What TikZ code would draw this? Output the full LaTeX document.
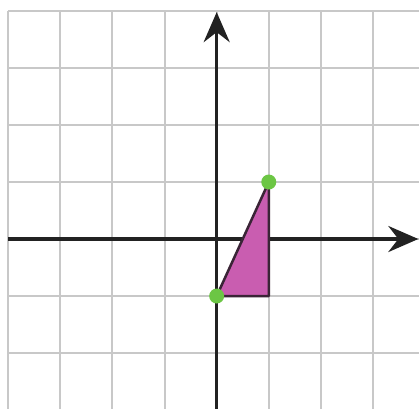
\documentclass[tikz,border=0pt]{standalone}
\usetikzlibrary{arrows.meta}
\definecolor{gridgray}{HTML}{C8C8C8}
\definecolor{axisdark}{HTML}{222222}
\definecolor{trifill}{HTML}{C95DB0}
\definecolor{triedge}{HTML}{3A2436}
\definecolor{dotgreen}{HTML}{6CC644}
\tikzset{
  gridline/.style={draw=gridgray,line width=2pt},
  axisline/.style={draw=axisdark,line width=3.5pt,-{Stealth[length=30pt,width=26pt,inset=10pt]}},
  tri/.style={fill=trifill,draw=triedge,line width=2.5pt,line join=round},
  dot/.style={circle,fill=dotgreen,inner sep=0pt,minimum size=15pt}
}
\begin{document}
\begin{tikzpicture}[x=52.1pt,y=57pt]
\useasboundingbox (-4.159,-2.982) rectangle (3.883,4.193);
\fill[white] (-4.159,-2.982) rectangle (3.883,4.193);
% grid
\foreach \i in {-4,...,3} \draw[gridline] (\i,-3.1) -- (\i,4);
\foreach \j in {-2,...,4} \draw[gridline] (-4,\j) -- (3.95,\j);
% axes
\coordinate (xl) at (-4,0);
\coordinate (xr) at (3.87,0);
\coordinate (yb) at (0,-3.1);
\coordinate (yt) at (0,3.98);
\draw[axisline] (xl) -- (xr);
\draw[axisline] (yb) -- (yt);
% triangle
\coordinate (A) at (0,-1);
\coordinate (B) at (1,1);
\coordinate (C) at (1,-1);
\draw[tri] (A) -- (B) -- (C) -- cycle;
\node[dot] (pA) at (A) {};
\node[dot] (pB) at (B) {};
\end{tikzpicture}
\end{document}
